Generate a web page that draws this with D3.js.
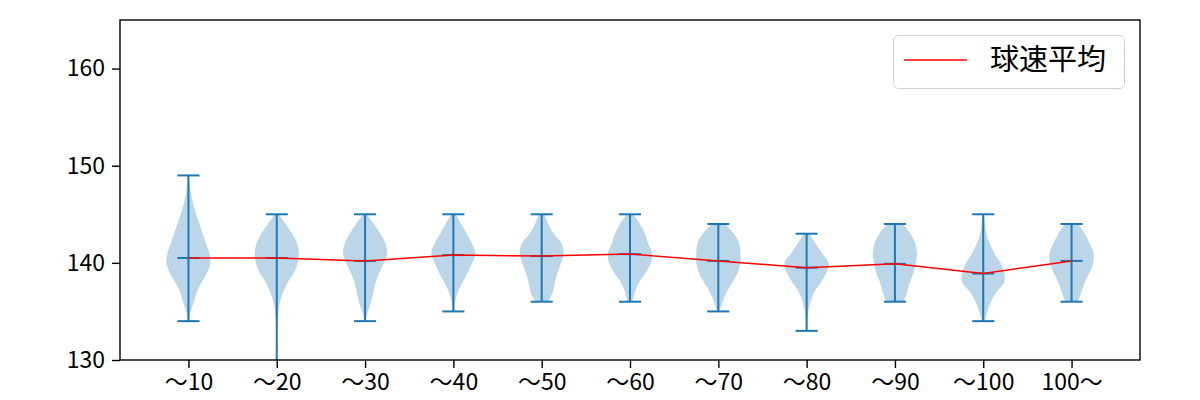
<!DOCTYPE html>
<html>
<head>
<meta charset="utf-8">
<script src="https://cdn.jsdelivr.net/npm/d3@7"></script>
<style>
  body { margin: 0; background: white; }
  text { font-family: "Noto Sans CJK JP", "Noto Sans", sans-serif; }
</style>
</head>
<body>
<div id="chart"></div>
<script>
const width = 1200
const height = 400
const margin = {top: 20, right: 60, bottom: 40, left: 120}

const color_violin = "#1f77b4"
const color_mean = "red"

// categorias del eje x
const categorias = ["～10", "～20", "～30", "～40", "～50", "～60", "～70", "～80", "～90", "～100", "100～"]
const velocidad_min = [134, 129, 134, 135, 136, 136, 135, 133, 136, 134, 136]
const velocidad_max = [149, 145, 145, 145, 145, 145, 144, 143, 144, 145, 144]
const velocidad_media = [140.5, 140.5, 140.2, 140.8, 140.7, 140.9, 140.2, 139.5, 139.9, 138.9, 140.2]

// densidad relativa de cada violin, un valor por km/h desde el minimo
const densidades = [
  [0.03, 0.1, 0.25, 0.38, 0.6, 0.85, 1.0, 0.95, 0.8, 0.65, 0.5, 0.35, 0.22, 0.12, 0.05, 0.02],
  [0.01, 0.01, 0.01, 0.02, 0.02, 0.04, 0.08, 0.15, 0.3, 0.5, 0.78, 0.95, 1.0, 0.92, 0.7, 0.4, 0.1],
  [0.03, 0.13, 0.28, 0.38, 0.48, 0.65, 0.85, 1.0, 0.92, 0.7, 0.4, 0.08],
  [0.03, 0.08, 0.2, 0.42, 0.65, 0.85, 1.0, 0.85, 0.6, 0.35, 0.1],
  [0.3, 0.5, 0.6, 0.72, 0.88, 1.0, 0.9, 0.55, 0.3, 0.12],
  [0.12, 0.22, 0.42, 0.72, 0.95, 1.0, 0.82, 0.68, 0.45, 0.15],
  [0.05, 0.2, 0.38, 0.65, 0.88, 1.0, 1.0, 0.95, 0.7, 0.3],
  [0.02, 0.04, 0.07, 0.18, 0.35, 0.65, 0.9, 1.0, 0.7, 0.4, 0.12],
  [0.4, 0.55, 0.68, 0.85, 0.95, 1.0, 0.92, 0.7, 0.35],
  [0.05, 0.18, 0.35, 0.6, 0.95, 0.95, 0.78, 0.5, 0.3, 0.14, 0.08, 0.03],
  [0.28, 0.45, 0.6, 0.82, 0.98, 1.0, 0.82, 0.6, 0.3]
]

const y_ticks = [130, 140, 150, 160]
const texto_leyenda = "球速平均"

const svg = d3.select("#chart").append("svg")
    .attr("width", width)
    .attr("height", height)

const x = d3.scaleLinear()
    .domain([0.225, 11.775])
    .range([margin.left, width - margin.right])

const y = d3.scaleLinear()
    .domain([130, 165])
    .range([height - margin.bottom, margin.top])

const ancho_violin = 0.25 // media anchura en unidades del eje x

svg.append("clipPath")
    .attr("id", "clip")
    .append("rect")
    .attr("x", margin.left)
    .attr("y", margin.top)
    .attr("width", width - margin.left - margin.right)
    .attr("height", height - margin.top - margin.bottom)

const plot = svg.append("g").attr("clip-path", "url(#clip)")

const datos = categorias.map((c, i) => ({
    cat: c,
    pos: i + 1,
    min: velocidad_min[i],
    max: velocidad_max[i],
    media: velocidad_media[i],
    perfil: densidades[i].map((w, j) => ({v: velocidad_min[i] + j, w: w}))
}))

// violines
datos.forEach(d => {
    const area = d3.area()
        .y(p => y(p.v))
        .x0(p => x(d.pos - ancho_violin * p.w))
        .x1(p => x(d.pos + ancho_violin * p.w))
        .curve(d3.curveCatmullRom)

    plot.append("path")
        .datum(d.perfil)
        .attr("d", area)
        .attr("fill", color_violin)
        .attr("fill-opacity", 0.3)
})

// lineas verticales, topes y media
const lineas = plot.append("g")
    .attr("stroke", color_violin)
    .attr("stroke-width", 2)

lineas.selectAll(".barra")
    .data(datos)
    .join("line")
    .attr("x1", d => x(d.pos))
    .attr("x2", d => x(d.pos))
    .attr("y1", d => y(d.min))
    .attr("y2", d => y(d.max))

const topes = d => [d.min, d.max, d.media]
datos.forEach(d => {
    lineas.selectAll(null)
        .data(topes(d))
        .join("line")
        .attr("x1", x(d.pos - 0.125))
        .attr("x2", x(d.pos + 0.125))
        .attr("y1", v => y(v))
        .attr("y2", v => y(v))
})

// linea de medias
plot.append("path")
    .datum(datos)
    .attr("d", d3.line().x(d => x(d.pos)).y(d => y(d.media)))
    .attr("fill", "none")
    .attr("stroke", color_mean)
    .attr("stroke-width", 1.5)

// marco
svg.append("rect")
    .attr("x", margin.left)
    .attr("y", margin.top)
    .attr("width", width - margin.left - margin.right)
    .attr("height", height - margin.top - margin.bottom)
    .attr("fill", "none")
    .attr("stroke", "black")
    .attr("stroke-width", 1.4)

// ejes
const ejeX = svg.append("g")
    .attr("transform", `translate(0, ${height - margin.bottom})`)
    .call(d3.axisBottom(x)
        .tickValues(datos.map(d => d.pos))
        .tickFormat((v, i) => categorias[i])
        .tickSize(8)
        .tickPadding(6))
ejeX.select(".domain").remove()
ejeX.selectAll("line").attr("stroke", "black").attr("stroke-width", 1.4)
ejeX.selectAll("text")
    .attr("font-size", 23)
    .attr("fill", "black")
    .attr("font-family", "Noto Sans CJK JP")

const ejeY = svg.append("g")
    .attr("transform", `translate(${margin.left}, 0)`)
    .call(d3.axisLeft(y)
        .tickValues(y_ticks)
        .tickSize(8)
        .tickPadding(7))
ejeY.select(".domain").remove()
ejeY.selectAll("line").attr("stroke", "black").attr("stroke-width", 1.4)
ejeY.selectAll("text")
    .attr("font-size", 23)
    .attr("fill", "black")
    .attr("font-family", "Noto Sans CJK JP")

// leyenda
const leyenda = svg.append("g")
leyenda.append("rect")
    .attr("x", 893.5)
    .attr("y", 35.5)
    .attr("width", 231)
    .attr("height", 53)
    .attr("rx", 5)
    .attr("fill", "white")
    .attr("fill-opacity", 0.8)
    .attr("stroke", "#d0d0d0")
leyenda.append("line")
    .attr("x1", 904)
    .attr("x2", 967)
    .attr("y1", 60)
    .attr("y2", 60)
    .attr("stroke", color_mean)
    .attr("stroke-width", 1.5)
leyenda.append("text")
    .attr("x", 990)
    .attr("y", 60)
    .attr("dy", "0.36em")
    .attr("font-size", 29)
    .attr("fill", "black")
    .text(texto_leyenda)
</script>
</body>
</html>
